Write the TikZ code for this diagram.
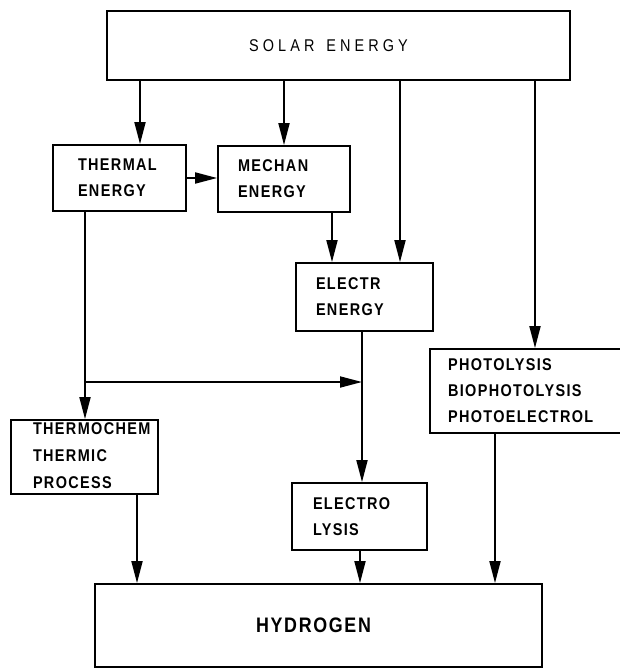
\documentclass[tikz,border=0pt]{standalone}
\usepackage{fontspec}
\usetikzlibrary{arrows.meta}
\newfontfamily\lab[LetterSpace=8,FakeStretch=0.85]{Liberation Sans Bold}
\newfontfamily\labwide[LetterSpace=24,FakeStretch=0.85]{Liberation Sans}
\newfontfamily\labbold[LetterSpace=8,FakeStretch=0.85]{Liberation Sans Bold}
\newcommand{\ind}[1]{\hspace*{#1pt}}
\begin{document}
\begin{tikzpicture}[x=1pt,y=-1pt,
  box/.style={draw,line width=1.8pt,rectangle,inner sep=0pt,align=left,
    font=\fontsize{17}{26}\selectfont\lab},
  arr/.style={line width=1.8pt,-{Triangle[length=22pt,width=11pt]}},
  ln/.style={line width=1.8pt}]
\useasboundingbox (0,0) rectangle (620,670);
% boxes
\node[box,align=center,minimum width=463pt,minimum height=69pt,text width=463pt,
  font=\fontsize{17}{26}\selectfont\labwide] (solar) at (338.5,45.5) {\hspace*{-20pt}SOLAR\hspace{12pt}ENERGY};
\node[box,minimum width=133pt,minimum height=66pt,text width=133pt] (thermal) at (119.5,178)
  {\ind{25}THERMAL\\\ind{25}ENERGY};
\node[box,minimum width=132pt,minimum height=66pt,text width=132pt] (mech) at (284,179)
  {\ind{20}MECHAN\\\ind{20}ENERGY};
\node[box,minimum width=137pt,minimum height=68pt,text width=137pt] (electr) at (364.5,297)
  {\ind{20}ELECTR\\\ind{20}ENERGY};
\node[box,minimum width=195pt,minimum height=84pt,text width=195pt] (photo) at (527.5,391)
  {\ind{18}PHOTOLYSIS\\\ind{18}BIOPHOTOLYSIS\\\ind{18}PHOTOELECTROL};
\node[box,minimum width=147pt,minimum height=74pt,text width=147pt,
  font=\fontsize{17}{27}\selectfont\lab] (thermo) at (84.5,457)
  {\ind{22}THERMOCHEM\\\ind{22}THERMIC\\\ind{22}PROCESS\\[-24pt]\mbox{}};
\node[box,minimum width=135pt,minimum height=67pt,text width=135pt] (lysis) at (359.5,516.5)
  {\ind{21}ELECTRO\\\ind{21}LYSIS};
\node[box,align=center,minimum width=447pt,minimum height=83pt,text width=447pt,
  font=\fontsize{21}{26}\selectfont\labbold] (hydro) at (318.5,625.5) {\hspace*{-10pt}HYDROGEN};
% helper coordinates
\coordinate (x1) at (140,0);
\coordinate (x3) at (400,0);
\coordinate (x4) at (535,0);
\coordinate (x5) at (332,0);
\coordinate (x6) at (362,0);
\coordinate (x7) at (137,0);
\coordinate (x8) at (360,0);
\coordinate (x9) at (495,0);
\coordinate (xt) at (85,0);
\coordinate (j) at (85,382);
% connectors
\draw[arr] (solar.south -| x1) -- (thermal.north -| x1);
\draw[arr] (solar.south -| mech.north) -- (mech.north);
\draw[arr] (solar.south -| x3) -- (electr.north -| x3);
\draw[arr] (solar.south -| x4) -- (photo.north -| x4);
\draw[arr] (thermal.east) -- (mech.west |- thermal.east);
\draw[arr] (mech.south -| x5) -- (electr.north -| x5);
\draw[arr] (thermal.south -| xt) -- (thermo.north -| xt);
\draw[arr] (j) -- (j -| x6);
\draw[arr] (electr.south -| x6) -- (lysis.north -| x6);
\draw[arr] (thermo.south -| x7) -- (hydro.north -| x7);
\draw[arr] (lysis.south -| x8) -- (hydro.north -| x8);
\draw[arr] (photo.south -| x9) -- (hydro.north -| x9);
\end{tikzpicture}
\end{document}
